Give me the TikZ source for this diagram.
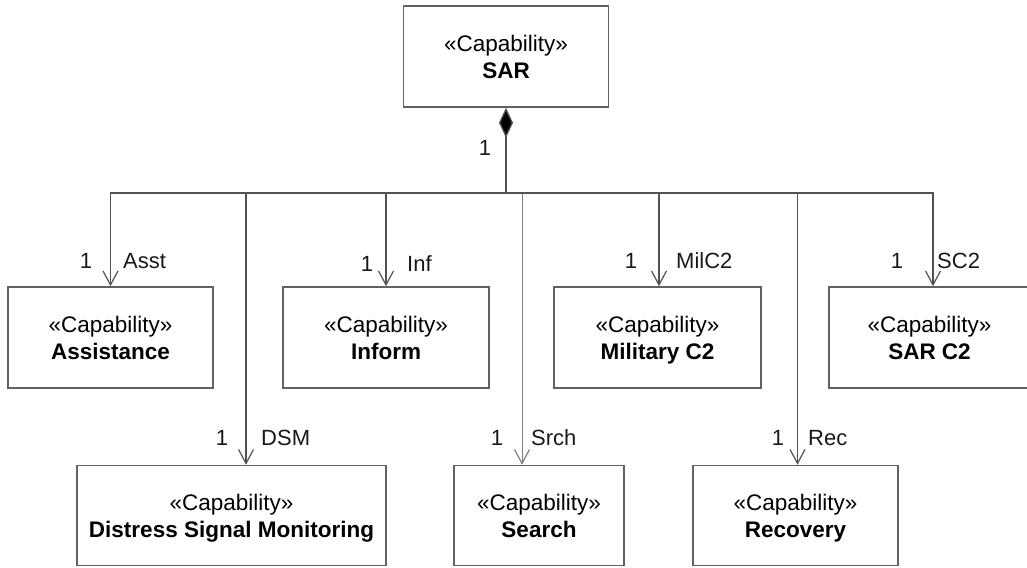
\documentclass[tikz,border=0pt]{standalone}
\usepackage{fontspec}
\setmainfont{Liberation Sans}
\usetikzlibrary{arrows.meta}
\newcommand\capsline[1]{\smash{\raisebox{-8.5pt}{#1}}}
\begin{document}
\begin{tikzpicture}[x=1pt,y=-1pt,
  capbox/.style={draw=black!62, line width=1.6pt, fill=white, rectangle, inner sep=0pt,
    align=center, font=\fontsize{22.5}{26.5}\selectfont, text=black},
  conn/.style={draw=black!68, line width=1.3pt, -{Straight Barb[length=14pt,width=15pt,line width=1.2pt]}},
  thinconn/.style={conn, draw=black!50, line width=0.9pt},
  trunk/.style={draw=black!68, line width=1.3pt, {Diamond[length=30pt,width=14pt,fill=black]}-},
  lbl/.style={font=\fontsize{22}{25}\selectfont, inner sep=0pt, anchor=base, text=black!90},
  role/.style={lbl, anchor=base west}]
\useasboundingbox (0,0) rectangle (1027,567);
\fill[white] (0,0) rectangle (1027,567);
% boxes
\node[capbox, minimum width=205pt, minimum height=101pt] (sar) at (506,56.5) {\capsline{«Capability»}\\\capsline{\textbf{SAR}}};
\node[capbox, minimum width=205pt, minimum height=101pt] (asst) at (110.5,337.5) {\capsline{«Capability»}\\\capsline{\textbf{Assistance}}};
\node[capbox, minimum width=206pt, minimum height=101pt] (inf) at (386,337.5) {\capsline{«Capability»}\\\capsline{\textbf{Inform}}};
\node[capbox, minimum width=207pt, minimum height=101pt] (mil) at (657.5,337.5) {\capsline{«Capability»}\\\capsline{\textbf{Military C2}}};
\node[capbox, minimum width=201pt, minimum height=101pt] (sc2) at (929.5,337.5) {\capsline{«Capability»}\\\capsline{\textbf{SAR C2}}};
\node[capbox, minimum width=309pt, minimum height=100pt] (dsm) at (231.5,515.5) {\capsline{«Capability»}\\\capsline{\textbf{Distress Signal Monitoring}}};
\node[capbox, minimum width=170pt, minimum height=100pt] (srch) at (539,515.5) {\capsline{«Capability»}\\\capsline{\textbf{Search}}};
\node[capbox, minimum width=205pt, minimum height=100pt] (rec) at (795.5,515.5) {\capsline{«Capability»}\\\capsline{\textbf{Recovery}}};
% connectors
\coordinate (j) at (506,193);
\draw[trunk] (sar.south) -- (j);
\draw[conn] (j) -| (asst.north);
\draw[conn] (j) -| ([xshift=14.5pt]dsm.north);
\draw[conn] (j) -| (inf.north);
\draw[thinconn] (j) -| ([xshift=-17pt]srch.north);
\draw[conn] (j) -| ([xshift=1.5pt]mil.north);
\draw[conn] (j) -| ([xshift=2pt]rec.north);
\draw[conn] (j) -| ([xshift=3.5pt]sc2.north);
% labels
\node[lbl] (m0) at (485,155) {1};
\node[lbl] (m1) at (86,268) {1};
\node[role] (r1) at (123,268) {Asst};
\node[lbl] (m2) at (367,271) {1};
\node[role] (r2) at (407,271) {Inf};
\node[lbl] (m3) at (631,268) {1};
\node[role] (r3) at (676,268) {MilC2};
\node[lbl] (m4) at (897,268) {1};
\node[role] (r4) at (937,268) {SC2};
\node[lbl] (m5) at (222,445) {1};
\node[role] (r5) at (261,445) {DSM};
\node[lbl] (m6) at (497,445) {1};
\node[role] (r6) at (531,445) {Srch};
\node[lbl] (m7) at (778,445) {1};
\node[role] (r7) at (808,445) {Rec};
\end{tikzpicture}
\end{document}
